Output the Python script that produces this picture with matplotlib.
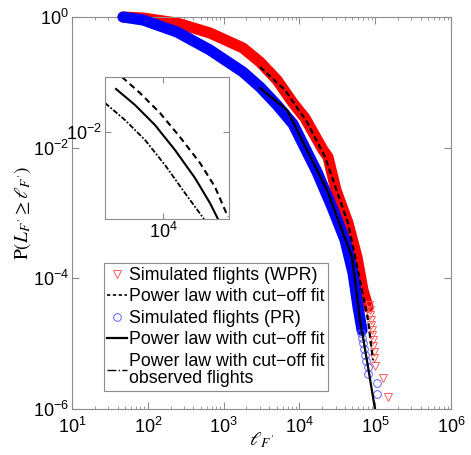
import matplotlib
matplotlib.use("Agg")
import matplotlib.pyplot as plt
from matplotlib.ticker import LogLocator, NullLocator, FixedLocator

plt.rcParams['font.family'] = ['Liberation Sans', 'DejaVu Sans']
plt.rcParams['mathtext.fontset'] = 'custom'
plt.rcParams['mathtext.rm'] = 'Liberation Sans'

# ── data ─────────────────────────────────────────────────────────────────────
# simulated flights, WPR (dense part of the CCDF)
wpr_x = [47.1, 86.4, 242.8, 661.6, 1803, 3021, 5063, 8234, 11855, 20480, 23840,
         30390, 43780, 57530, 69000, 80350]
wpr_y = [1.0, 0.965, 0.809, 0.569, 0.335, 0.2046, 0.1084, 0.0482, 0.0284,
         0.00919, 0.00718, 0.002243, 7.0e-4, 2.11e-4, 6.59e-5, 3.62e-5]
# WPR tail, individual markers
wpr_tail_x = [82800, 85300, 85300, 88000, 88000, 90700, 90700, 93500, 93500,
              96400, 96400, 99300, 127000, 147000]
wpr_tail_y = [3.89e-5, 3.26e-5, 2.73e-5, 2.29e-5, 1.92e-5, 1.63e-5, 1.35e-5,
              1.13e-5, 9.16e-6, 7.41e-6, 6.0e-6, 4.52e-6, 2.96e-6, 1.52e-6]

# simulated flights, PR
pr_x = [47.1, 86.4, 242.8, 661.6, 1803, 3021, 5063, 8234, 11855, 17070, 26930,
        39960, 50950, 59310, 66980]
pr_y = [1.0, 0.900, 0.589, 0.312, 0.1438, 0.0847, 0.0449, 0.0230, 0.00986,
        0.00423, 0.00123, 3.85e-4, 1.20e-4, 3.62e-5, 1.61e-5]
pr_tail_x = [65000, 66900, 69000, 71100, 73300, 75600, 80400, 80400, 106000, 106000]
pr_tail_y = [1.45e-5, 1.21e-5, 1.02e-5, 8.24e-6, 6.67e-6, 5.40e-6, 4.37e-6,
             3.41e-6, 2.48e-6, 1.69e-6]

# power law with cut-off fits
fit_wpr_x = [3021, 6457, 12600, 21760, 43780, 63000, 80350, 93500]
fit_wpr_y = [0.1715, 0.0762, 0.02466, 0.00718, 7.0e-4, 9.38e-5, 2.29e-5, 5.59e-6]
fit_pr_x = [3021, 6860, 23130, 49430, 63000, 69000, 99300]
fit_pr_y = [0.0818, 0.0377, 0.002243, 2.11e-4, 2.29e-5, 1.26e-5, 1.0e-6]

# inset curves
ins_wpr_x = [4560, 6430, 9400, 13760, 20140, 26810, 34340]
ins_wpr_y = [0.0316, 0.0226, 0.0149, 0.00901, 0.00524, 0.00317, 0.00169]
ins_pr_x = [4070, 5840, 8550, 12510, 18320, 24380, 28380]
ins_pr_y = [0.0246, 0.01762, 0.01158, 0.00687, 0.00382, 0.00226, 0.00162]
ins_obs_x = [3300, 4830, 7070, 10340, 15140, 21750]
ins_obs_y = [0.01837, 0.01286, 0.00847, 0.00502, 0.00279, 0.00162]

labels = ["Simulated flights (WPR)", "Power law with cut\u2212off fit",
          "Simulated flights (PR)", "Power law with cut\u2212off fit",
          "Power law with cut\u2212off fit\nobserved flights"]

GRAY = "#8c8c8c"

fig = plt.figure(figsize=(4.71, 4.55), dpi=100)
ax = fig.add_axes([0.1529, 0.1011, 0.8047, 0.8615])

# ── main plot ────────────────────────────────────────────────────────────────
ax.plot(wpr_x, wpr_y, color="red", lw=8, solid_capstyle="round",
        solid_joinstyle="round", zorder=2, clip_on=False)
ax.plot(wpr_tail_x, wpr_tail_y, "v", ms=6, mfc="none", mec="#ff6060", mew=0.7, zorder=2)
ax.plot(pr_x, pr_y, color="blue", lw=8, solid_capstyle="round",
        solid_joinstyle="round", zorder=3, clip_on=False)
ax.plot(pr_tail_x, pr_tail_y, "o", ms=5.5, mfc="none", mec="#6060ff", mew=0.7, zorder=3)
ax.plot(fit_wpr_x, fit_wpr_y, color="black", lw=1.6, ls=(0, (2.5, 1.5)), zorder=4)
ax.plot(fit_pr_x, fit_pr_y, color="black", lw=1.6, zorder=4)

ax.set_xscale("log")
ax.set_yscale("log")
ax.set_xlim(10, 1e6)
ax.set_ylim(1e-6, 1)
ax.yaxis.set_major_locator(FixedLocator([1e-6, 1e-4, 1e-2, 1]))
ax.yaxis.set_minor_locator(NullLocator())
ax.xaxis.set_minor_locator(LogLocator(base=10, subs=range(2, 10), numticks=20))
ax.tick_params(which="both", direction="in", top=True, right=True, color=GRAY,
               labelsize=13)
ax.tick_params(which="major", length=5)
ax.tick_params(which="minor", length=2.5)
ax.tick_params(axis="x", pad=6)
ax.tick_params(axis="y", pad=2)
for s in ax.spines.values():
    s.set_color(GRAY)

ax.set_xlabel(r"$\ell_{F^{\prime}}$", fontsize=14, math_fontfamily="stix", labelpad=-5)
ax.set_ylabel(r"$\mathrm{P}(L_{F^{\prime}} \geq \ell_{F^{\prime}})$", fontsize=14,
              math_fontfamily="stix", labelpad=0)

# legend handles
h1, = ax.plot([], [], "v", ms=6, mfc="none", mec="#ff6060", mew=0.7)
h2, = ax.plot([], [], color="black", lw=1.2, ls=(0, (2, 1.5)))
h3, = ax.plot([], [], "o", ms=5.5, mfc="none", mec="#6060ff", mew=0.7)
h4, = ax.plot([], [], color="black", lw=1.6)
h5, = ax.plot([], [], color="black", lw=1.0, ls="-.")
leg = ax.legend([h1, h2, h3, h4, h5], labels, loc="lower left",
                bbox_to_anchor=(0.084, 0.046), borderaxespad=0, fontsize=12.8,
                labelspacing=0.25, handlelength=1.1, handletextpad=0.1,
                borderpad=0.2, fancybox=False, framealpha=1)
leg.get_frame().set_edgecolor(GRAY)
leg.get_frame().set_linewidth(0.8)
for t in leg.get_texts():
    t.set_linespacing(1.05)

# ── inset ────────────────────────────────────────────────────────────────────
ins = fig.add_axes([0.2229, 0.5187, 0.2633, 0.3121])
ins.plot(ins_wpr_x, ins_wpr_y, color="black", lw=1.5, ls=(0, (3, 2)))
ins.plot(ins_pr_x, ins_pr_y, color="black", lw=1.5)
ins.plot(ins_obs_x, ins_obs_y, color="black", lw=1.3, ls=(0, (3, 1, 1, 1)))
ins.set_xscale("log")
ins.set_yscale("log")
ins.set_xlim(3300, 35000)
ins.set_ylim(10 ** -2.79, 10 ** -1.5)
ins.xaxis.set_major_locator(FixedLocator([1e4]))
ins.yaxis.set_major_locator(FixedLocator([1e-2]))
ins.xaxis.set_minor_locator(NullLocator())
ins.yaxis.set_minor_locator(NullLocator())
ins.tick_params(which="both", direction="in", top=True, right=True, color=GRAY,
                labelsize=13, length=4, pad=2)
for s in ins.spines.values():
    s.set_color(GRAY)

fig.savefig("out.png", dpi=100)
